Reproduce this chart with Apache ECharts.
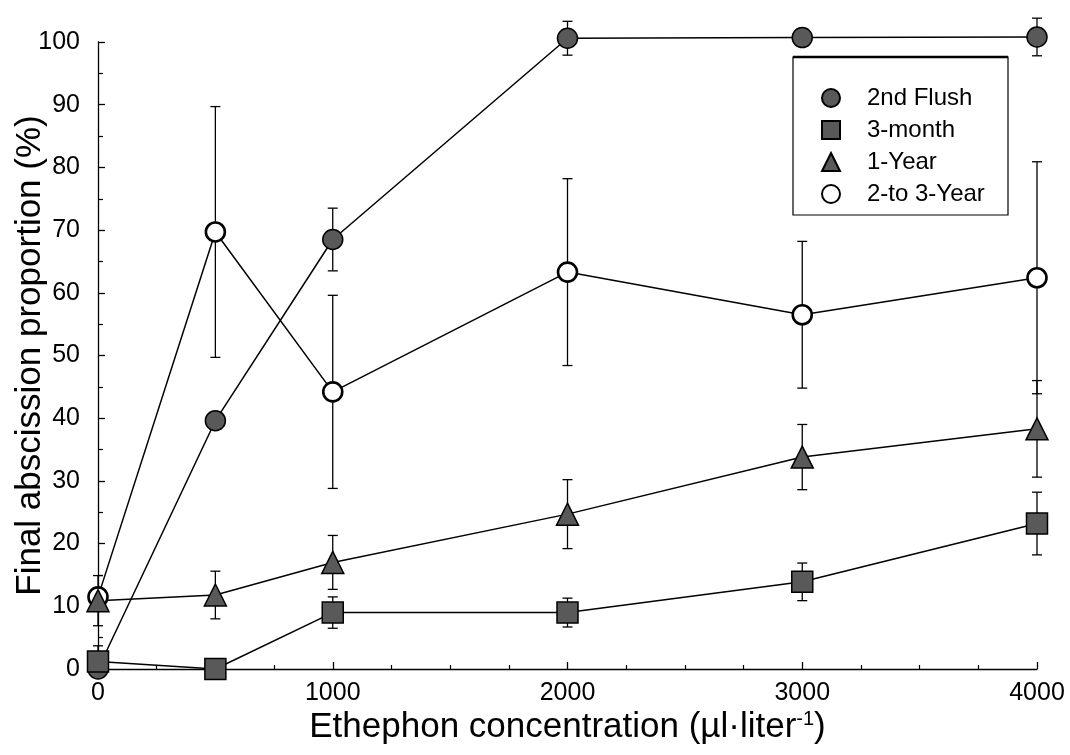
<!DOCTYPE html>
<html>
<head>
<meta charset="utf-8">
<script src="https://cdn.jsdelivr.net/npm/echarts@6/dist/echarts.min.js"></script>
<style>
html,body{margin:0;padding:0;background:#fff;}
#chart{width:1070px;height:755px;}
</style>
</head>
<body>
<div id="chart"></div>
<script>
// ---- data ----
var concentrations = [0, 500, 1000, 2000, 3000, 4000];
var seriesNames = ['2nd Flush', '3-month', '1-Year', '2-to 3-Year'];
var flush2nd      = [0, 39.6, 68.5, 100.6, 100.7, 100.8];
var flush2ndErr   = [0, 0, 5, 2.7, 0, 3];
var month3        = [1.2, 0, 9.0, 9.0, 13.9, 23.2];
var month3Err     = [2.5, 0, 2.5, 2.3, 3, 5];
var year1         = [10.9, 11.8, 17.0, 24.7, 33.8, 38.3];
var year1Err      = [4, 3.8, 4.3, 5.5, 5.2, 7.7];
var year23        = [11.5, 69.7, 44.2, 63.3, 56.5, 62.4];
var year23Err     = [0, 20, 15.4, 14.9, 11.7, 18.5];
var xTicks = [0, 1000, 2000, 3000, 4000];
var yTicks = [0, 10, 20, 30, 40, 50, 60, 70, 80, 90, 100];

var FONT = "'Liberation Sans', Arial, Helvetica, sans-serif";

function pts(vals) {
  return concentrations.map(function (c, i) { return [c, vals[i]]; });
}
function errPts(vals, errs) {
  var out = [];
  concentrations.forEach(function (c, i) {
    if (errs[i] > 0) out.push([c, vals[i] - errs[i], vals[i] + errs[i]]);
  });
  return out;
}
function errorSeries(vals, errs) {
  return {
    type: 'custom',
    data: errPts(vals, errs),
    clip: false,
    z: 1,
    silent: true,
    renderItem: function (params, api) {
      var lo = api.coord([api.value(0), api.value(1)]);
      var hi = api.coord([api.value(0), api.value(2)]);
      var cap = 5;
      var st = { stroke: '#000', lineWidth: 1.3 };
      return {
        type: 'group',
        children: [
          { type: 'line', shape: { x1: hi[0], y1: hi[1], x2: lo[0], y2: lo[1] }, style: st },
          { type: 'line', shape: { x1: hi[0] - cap, y1: hi[1], x2: hi[0] + cap, y2: hi[1] }, style: st },
          { type: 'line', shape: { x1: lo[0] - cap, y1: lo[1], x2: lo[0] + cap, y2: lo[1] }, style: st }
        ]
      };
    }
  };
}
function lineSeries(name, vals, symbol, size, itemStyle) {
  return {
    name: name,
    type: 'line',
    data: pts(vals),
    symbol: symbol,
    symbolSize: size,
    showAllSymbol: true,
    clip: false,
    z: 3,
    lineStyle: { color: '#000', width: 1.5 },
    itemStyle: itemStyle,
    emphasis: { disabled: true }
  };
}

var filled = { color: '#595959', borderColor: '#000', borderWidth: 1.5, opacity: 1 };
var open = { color: '#fff', borderColor: '#000', borderWidth: 2.6, opacity: 1 };

var chart = echarts.init(document.getElementById('chart'), null, { renderer: 'canvas' });
chart.setOption({
  backgroundColor: '#fff',
  animation: false,
  textStyle: { fontFamily: FONT, color: '#000' },
  grid: { left: 98, right: 33, top: 42, bottom: 86, containLabel: false, outerBoundsMode: 'none' },
  xAxis: {
    type: 'value',
    min: 0, max: 4000, interval: 1000,
    name: 'Ethephon concentration (µl·liter{sup|-1})',
    nameLocation: 'middle',
    nameGap: 40,
    nameMoveOverlap: false,
    nameTextStyle: {
      fontFamily: FONT, fontSize: 35, color: '#000',
      rich: { sup: { fontFamily: FONT, fontSize: 20, color: '#000', verticalAlign: 'top', padding: [0, 0, 16, 0] } }
    },
    axisLine: { show: true, lineStyle: { color: '#000', width: 1.3 } },
    axisTick: { show: true, inside: true, length: 7, lineStyle: { color: '#000', width: 1.3 } },
    minorTick: { show: true, splitNumber: 4, length: 4, lineStyle: { color: '#000', width: 1.2 } },
    splitLine: { show: false },
    axisLabel: {
      margin: 12, fontFamily: FONT, fontSize: 25, color: '#000',
      formatter: function (v) { return xTicks.indexOf(v) >= 0 ? String(v) : ''; }
    }
  },
  yAxis: {
    type: 'value',
    min: 0, max: 100, interval: 10,
    name: 'Final abscission proportion (%)',
    nameLocation: 'middle',
    nameRotate: 90,
    nameGap: 50,
    nameMoveOverlap: false,
    nameTextStyle: { fontFamily: FONT, fontSize: 35, color: '#000' },
    axisLine: { show: true, lineStyle: { color: '#000', width: 1.3 } },
    axisTick: { show: true, inside: true, length: 7, lineStyle: { color: '#000', width: 1.3 } },
    minorTick: { show: true, splitNumber: 2, length: 5, lineStyle: { color: '#000', width: 1.2 } },
    splitLine: { show: false },
    axisLabel: {
      margin: 18, fontFamily: FONT, fontSize: 25, color: '#000',
      formatter: function (v) { return yTicks.indexOf(v) >= 0 ? String(v) : ''; }
    }
  },
  legend: {
    orient: 'vertical',
    left: 816, top: 81,
    itemWidth: 18, itemHeight: 18,
    itemGap: 8,
    selectedMode: false,
    textStyle: { fontFamily: FONT, fontSize: 24, color: '#000', padding: [0, 0, 0, 22] },
    data: [
      { name: seriesNames[0], icon: 'circle' },
      { name: seriesNames[1], icon: 'rect' },
      { name: seriesNames[2], icon: 'triangle' },
      { name: seriesNames[3], icon: 'circle' }
    ]
  },
  graphic: [
    { type: 'rect', shape: { x: 793, y: 57, width: 215, height: 158 }, style: { fill: 'none', stroke: '#000', lineWidth: 1.2 }, z: 0 },
    { type: 'line', shape: { x1: 793, y1: 57, x2: 1008, y2: 57 }, style: { stroke: '#000', lineWidth: 2.5 }, z: 0 }
  ],
  series: [
    errorSeries(flush2nd, flush2ndErr),
    errorSeries(month3, month3Err),
    errorSeries(year1, year1Err),
    errorSeries(year23, year23Err),
    lineSeries(seriesNames[3], year23, 'circle', 19, open),
    lineSeries(seriesNames[0], flush2nd, 'circle', 20, filled),
    lineSeries(seriesNames[1], month3, 'rect', 21, filled),
    lineSeries(seriesNames[2], year1, 'triangle', 22, filled)
  ]
});
</script>
</body>
</html>
